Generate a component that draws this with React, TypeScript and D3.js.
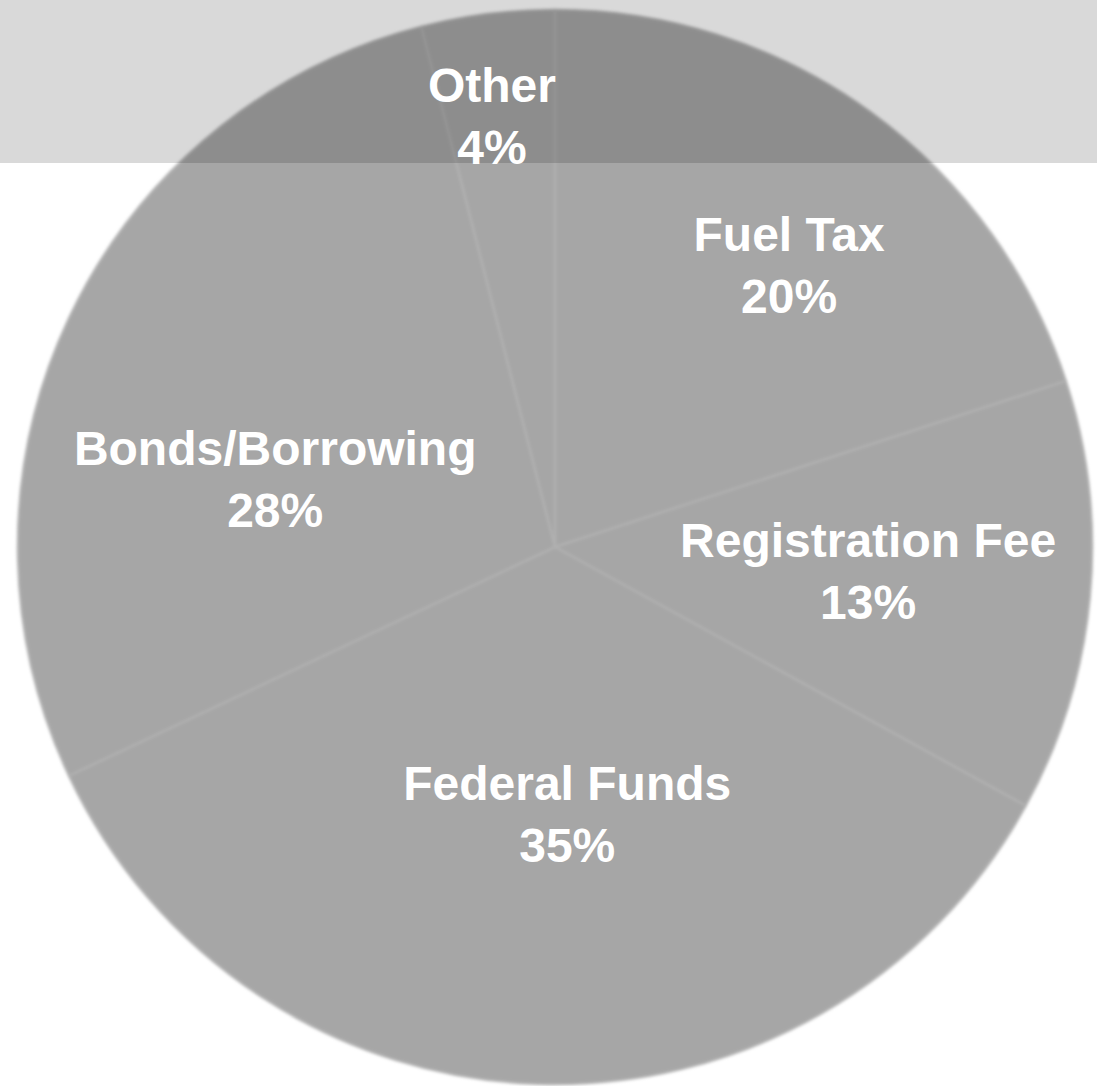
import { useEffect, useRef } from 'react';
import * as d3 from 'd3';

// slices, clockwise from 12 o'clock
const categories = ['Fuel Tax', 'Registration Fee', 'Federal Funds', 'Bonds/Borrowing', 'Other'];
const shares = [20, 13, 35, 28, 4];
// label nudges (px) relative to the arc centroid
const labelDx = [51, 3, 22, 2, -24];
const labelDy = [-28, -3, -42, 67, -120];

const WIDTH = 1097;
const HEIGHT = 1086;

export default function App() {
  const ref = useRef<SVGSVGElement>(null);

  useEffect(() => {
    if (!ref.current) return;
    const svg = d3.select(ref.current);
    svg.selectAll('*').remove();

    const cx = 555;
    const cy = 547;
    const radius = 537;

    const data = categories.map((name, i) => ({ name, value: shares[i], i }));

    const pie = d3
      .pie<{ name: string; value: number; i: number }>()
      .value(d => d.value)
      .sort(null);

    const arc = d3
      .arc<d3.PieArcDatum<{ name: string; value: number; i: number }>>()
      .innerRadius(0)
      .outerRadius(radius);

    const labelArc = d3
      .arc<d3.PieArcDatum<{ name: string; value: number; i: number }>>()
      .innerRadius(radius * 0.58)
      .outerRadius(radius * 0.58);

    const defs = svg.append('defs');
    defs
      .append('filter')
      .attr('id', 'soft')
      .attr('x', '-5%')
      .attr('y', '-5%')
      .attr('width', '110%')
      .attr('height', '110%')
      .append('feGaussianBlur')
      .attr('stdDeviation', 1.6);

    const arcs = pie(data);

    const g = svg.append('g').attr('transform', `translate(${cx}, ${cy})`);

    g.append('g')
      .attr('filter', 'url(#soft)')
      .selectAll('path')
      .data(arcs)
      .join('path')
      .attr('d', arc)
      .attr('fill', '#a6a6a6')
      .attr('stroke', '#b0b0b0')
      .attr('stroke-width', 2.5)
      .attr('stroke-linejoin', 'round');

    // grey band across the top
    svg
      .append('rect')
      .attr('x', 0)
      .attr('y', 0)
      .attr('width', WIDTH)
      .attr('height', 163)
      .attr('fill', '#000')
      .attr('fill-opacity', 0.15);

    const labels = svg
      .append('g')
      .attr('transform', `translate(${cx}, ${cy})`)
      .attr('font-family', '"Liberation Sans", Arial, sans-serif')
      .attr('font-weight', 'bold')
      .attr('font-size', 48)
      .attr('fill', '#ffffff')
      .attr('text-anchor', 'middle');

    arcs.forEach(d => {
      const [x, y] = labelArc.centroid(d);
      const lx = x + labelDx[d.data.i];
      const t = labels
        .append('text')
        .attr('x', lx)
        .attr('y', y + labelDy[d.data.i]);
      t.append('tspan').attr('x', lx).attr('dy', -16).text(d.data.name);
      t.append('tspan').attr('x', lx).attr('dy', 62).text(`${d.data.value}%`);
    });
  }, []);

  return (
    <svg
      ref={ref}
      width={WIDTH}
      height={HEIGHT}
      style={{ position: 'absolute', top: 0, left: 0, display: 'block', background: '#fff' }}
    />
  );
}
